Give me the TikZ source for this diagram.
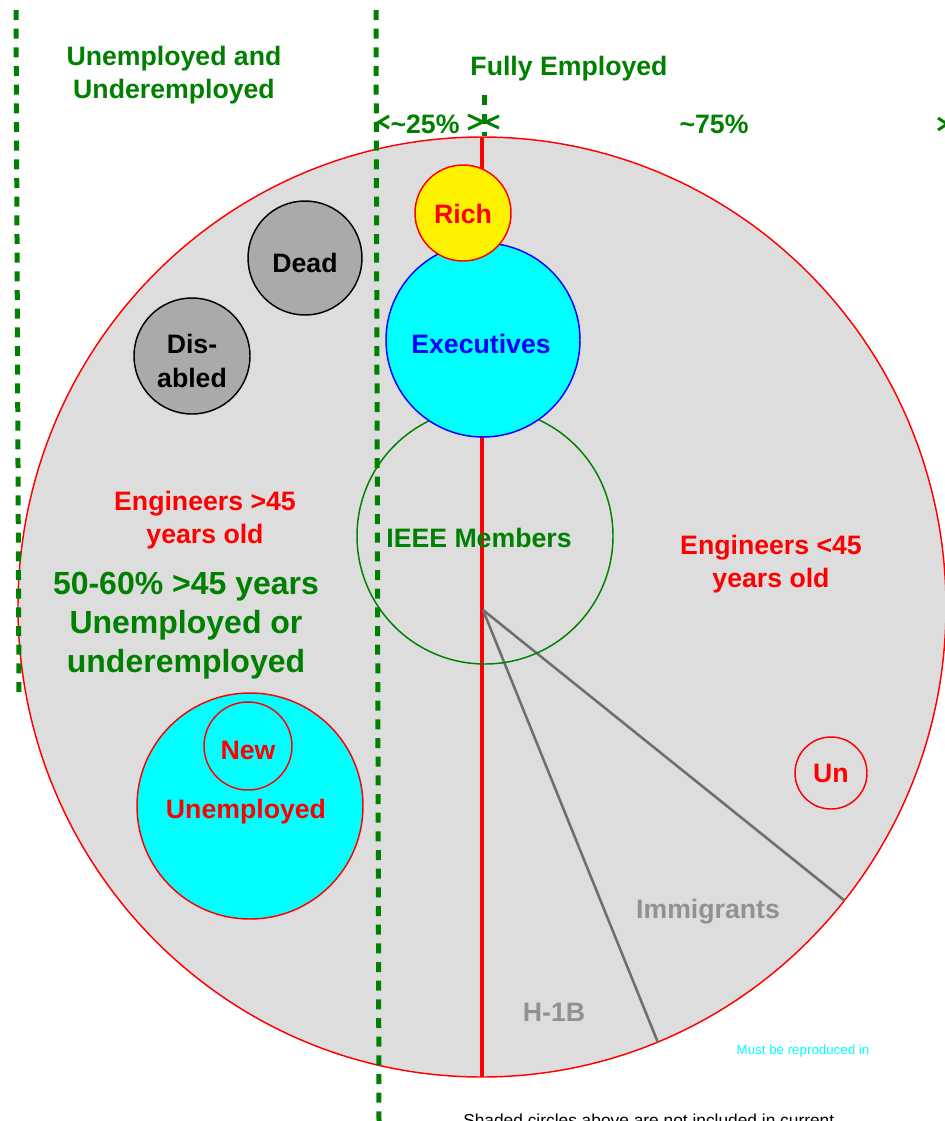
\documentclass[tikz,border=0pt]{standalone}
\usepackage{fontspec}
\setmainfont{Liberation Sans}
\usetikzlibrary{shapes.geometric}
\definecolor{fgreen}{RGB}{0,128,0}
\definecolor{bgray}{RGB}{221,221,221}
\definecolor{dgray}{RGB}{170,170,170}
\definecolor{lgray}{RGB}{110,110,110}
\definecolor{tgray}{RGB}{145,145,145}
\definecolor{ccyan}{RGB}{0,255,255}
\begin{document}
\begin{tikzpicture}[x=0.75pt,y=-0.75pt,
  txt/.style={font=\bfseries\fontsize{20}{24.75}\selectfont, align=center, inner sep=0pt},
  bigtxt/.style={font=\bfseries\fontsize{24}{29.25}\selectfont, align=center, inner sep=0pt},
  circ/.style={circle, inner sep=0pt, outer sep=0pt, line width=1.1pt},
  gdash/.style={draw=fgreen, line width=3.75pt, dash pattern=on 7.5pt off 6.5pt},
  chev/.style={draw=fgreen, line width=2.2pt},
  ray/.style={draw=lgray, line width=1.9pt}]
\useasboundingbox (0,0) rectangle (945,1121);

% whole population
\node[ellipse, inner sep=0pt, outer sep=0pt, draw=red, line width=1.1pt, fill=bgray,
  minimum width=696pt, minimum height=705pt] (world) at (482,607) {};
\draw[red, line width=2.3pt] (world.north) -- (world.south);

% immigrants / H-1B rays
\coordinate (hub) at (483,610);
\draw[ray] (hub) -- (world.-39.4);
\draw[ray] (hub) -- (world.-68.6);

% circles
\node[circ, draw=black, fill=dgray, minimum size=85.5pt] (dead) at (305,258) {};
\node[circ, draw=black, fill=dgray, minimum size=87pt] (disabled) at (192,356) {};
\node[circ, draw=fgreen, minimum size=192pt] (ieee) at (485,536) {};
\node[circ, draw=blue, fill=ccyan, minimum size=145.5pt] (exec) at (483,340) {};
\node[circ, draw=red, fill=yellow, minimum size=72pt] (rich) at (463,213) {};
\node[circ, draw=red, fill=ccyan, minimum size=169.5pt] (newun) at (250,806) {};
\node[circ, draw=red, fill=ccyan, minimum size=66pt] (new) at (248,746) {};
\node[circ, draw=red, minimum size=54pt] (un) at (831,773) {};

% circle labels
\node[txt] (deadt) at ([shift={(0,5)}]dead) {Dead};
\node[txt, font=\bfseries\fontsize{20}{25.5}\selectfont] (disabledt) at ([shift={(0,5)}]disabled) {Dis-\\abled};
\node[txt, text=fgreen] (ieeet) at ([shift={(-6,2)}]ieee) {IEEE Members};
\node[txt, text=blue] (exect) at ([shift={(-2,4)}]exec) {Executives};
\node[txt, text=red] (richt) at ([shift={(0,1)}]rich) {Rich};
\node[txt, text=red] (newunt) at ([shift={(-4,6)}]newun) {Unemployed};
\node[txt, text=red] (newt) at ([shift={(0,4)}]new) {New};
\node[txt, text=red] (unt) at (un) {Un};

% dividing dashed lines
\draw[gdash] (16,10) -- (19,692);
\draw[gdash] (376,10) -- (379,1121);
\draw[gdash] (484,95) -- (484,136);

% chevrons of the percentage spans
\coordinate (l25) at (379,122);
\coordinate (r25) at (483,122);
\coordinate (l75) at (486,122);
\coordinate (r75) at (947,124);
\draw[chev] ([shift={(10,-6)}]l25) -- (l25) -- ++(10,6);
\draw[chev] ([shift={(-15,-7)}]r25) -- (r25) -- ++(-15,7);
\draw[chev] ([shift={(13,-6)}]l75) -- (l75) -- ++(13,6);
\draw[chev] ([shift={(-9,-6)}]r75) -- (r75) -- ++(-9,6);

% labels
\node[txt, text=fgreen] (unemp) at (174,75) {Unemployed and\\Underemployed};
\node[txt, text=fgreen] (full) at (569,69) {Fully Employed};
\node[txt, text=fgreen] (p25) at (425,124) {\textasciitilde25\%};
\node[txt, text=fgreen] (p75) at (714,124) {\textasciitilde75\%};
\node[txt, text=red] (old) at (205,520) {Engineers >45\\years old};
\node[bigtxt, text=fgreen] (stat) at (186,626) {50-60\% >45 years\\Unemployed or\\underemployed};
\node[txt, text=red] (young) at (771,564) {Engineers <45\\years old};
\node[txt, text=tgray] (immig) at (708,912) {Immigrants};
\node[txt, text=tgray] (h1b) at (554,1012) {H-1B};
\node[inner sep=0pt, text=ccyan, font=\fontsize{10}{12}\selectfont] (must) at (803,1051) {Must be reproduced in};
\node[anchor=north west, inner sep=0pt, font=\fontsize{13}{15}\selectfont] (note) at (463,1114) {Shaded circles above are not included in current};
\end{tikzpicture}
\end{document}
